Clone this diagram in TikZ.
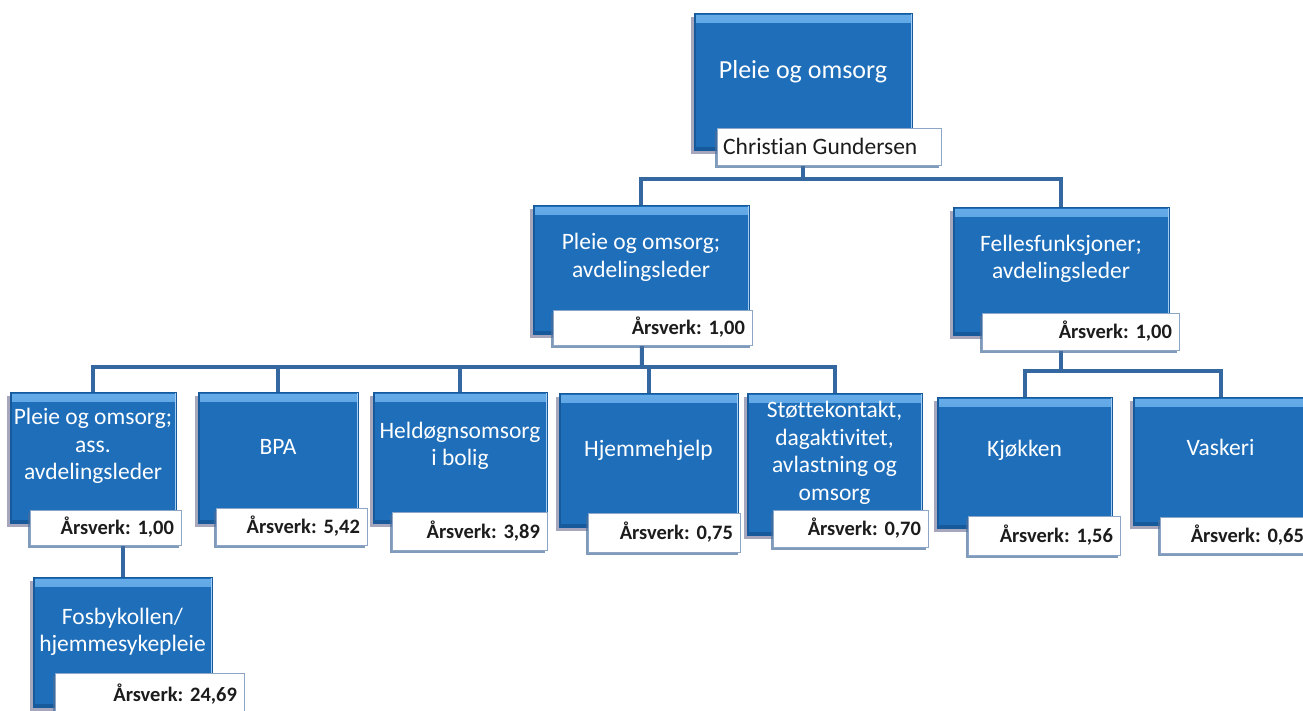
\documentclass[tikz,border=0pt]{standalone}
\usepackage{fontspec}
\setmainfont{Carlito}[Ligatures=NoCommon]
\frenchspacing
\usetikzlibrary{shadows}

\definecolor{boxblue}{HTML}{1E6EBA}
\definecolor{boxdark}{HTML}{175A9C}
\definecolor{boxlight}{HTML}{66ACE9}
\definecolor{linkblue}{HTML}{3567A0}
\definecolor{tagedge}{HTML}{8DA6C6}
\definecolor{tagshadow}{HTML}{4A6F9C}
\definecolor{inkdark}{HTML}{1C1C1C}

\pgfdeclarelayer{wires}
\pgfsetlayers{wires,main}

\tikzset{
  unitbox/.style={fill=boxblue, draw=boxdark, line width=0.8pt, inner sep=0pt,
    preaction={fill=black!75!blue, opacity=0.35, transform canvas={shift={(-3pt,-4pt)}}},
    path picture={
      \fill[top color=boxlight, bottom color=boxblue]
        ([yshift=-2pt]path picture bounding box.north west) rectangle
        ([yshift=-9pt]path picture bounding box.north east);
      \fill[boxdark] (path picture bounding box.south west) rectangle
        ([xshift=2pt]path picture bounding box.north west);
      \fill[boxdark] (path picture bounding box.south west) rectangle
        ([yshift=3pt]path picture bounding box.south east);
      \fill[boxlight!60!white] ([xshift=-1.5pt]path picture bounding box.south east) rectangle
        (path picture bounding box.north east);
    }},
  unittext/.style={text=white, align=center, inner sep=0pt,
    font=\fontsize{23.5}{27.5}\selectfont},
  tagbox/.style={fill=white, draw=tagedge, line width=0.8pt, inner xsep=7pt, inner ysep=0pt,
    align=right, text=inkdark, font=\bfseries\fontsize{20.5}{24}\selectfont,
    drop shadow={shadow xshift=-2pt, shadow yshift=-3pt, fill=tagshadow, opacity=0.7}},
  nametext/.style={inner sep=0pt, text=inkdark, font=\fontsize{23.5}{27}\selectfont},
  link/.style={draw=linkblue, line width=4pt},
}

% unit box: name, x1, y1, x2, y2, text centre y, text
\newcommand\orgunit[7]{%
  \pgfmathsetmacro\unitw{#4-#2}\pgfmathsetmacro\unith{#5-#3}%
  \node[unitbox, minimum width=\unitw pt, minimum height=\unith pt] (#1)
    at ({(#2+#4)/2},{(#3+#5)/2}) {};
  \node[unittext] (#1-text) at ({(#2+#4)/2},#6) {#7};}

% staffing tag: name, x1, y1, x2, y2, text
\newcommand\ftetag[6]{%
  \pgfmathsetmacro\tagw{#4-#2}\pgfmathsetmacro\tagh{#5-#3}\pgfmathsetmacro\tagtw{#4-#2-14}%
  \node[tagbox, minimum width=\tagw pt, minimum height=\tagh pt, text width=\tagtw pt] (#1)
    at ({(#2+#4)/2},{(#3+#5)/2}) {#6};}

\begin{document}
\begin{tikzpicture}[x=1pt, y=-1pt]
\useasboundingbox (0,0) rectangle (1303,710);
\clip (0,0) rectangle (1303,710);

% bus junctions
\coordinate (bus1) at (803,179);
\coordinate (bus2) at (642,367);
\coordinate (bus3) at (1061,371);

% units
\orgunit{top}{694}{13}{912}{150}{72}{\fontsize{26}{30}\selectfont Pleie og omsorg}
\orgunit{pom}{533}{205}{749}{334}{257.5}{Pleie og omsorg;\\avdelingsleder}
\orgunit{fel}{953}{207}{1169}{335}{259}{Fellesfunksjoner;\\avdelingsleder}
\orgunit{ass}{10}{392}{176}{523}{446}{Pleie og omsorg;\\ass.\\avdelingsleder}
\orgunit{bpa}{198}{392}{358}{523}{447}{BPA}
\orgunit{hel}{373}{392}{547}{523}{446}{Heldøgnsomsorg\\i bolig}
\orgunit{hje}{559}{393}{738}{527}{450}{Hjemmehjelp}
\orgunit{sto}{747}{393}{922}{535}{453}{Støttekontakt,\\dagaktivitet,\\avlastning og\\omsorg}
\orgunit{kjo}{937}{397}{1112}{528}{450}{Kjøkken}
\orgunit{vas}{1133}{397}{1308}{525}{447}{Vaskeri}
\orgunit{fos}{33}{577}{212}{707}{632}{Fosbykollen/\\hjemmesykepleie}

% staffing tags
\ftetag{top-tag}{717}{128}{941}{165}{}
\node[nametext, anchor=west] (top-name) at (723,146.5) {Christian Gundersen};
\ftetag{pom-tag}{553}{310}{752}{345}{Årsverk: 1,00}
\ftetag{fel-tag}{982}{313}{1179}{350}{Årsverk: 1,00}
\ftetag{ass-tag}{30}{510}{181}{545}{Årsverk: 1,00}
\ftetag{bpa-tag}{216}{508}{367}{545}{Årsverk: 5,42}
\ftetag{hel-tag}{392}{512}{547}{550}{Årsverk: 3,89}
\ftetag{hje-tag}{588}{513}{740}{552}{Årsverk: 0,75}
\ftetag{sto-tag}{773}{510}{928}{547}{Årsverk: 0,70}
\ftetag{kjo-tag}{968}{516}{1120}{555}{Årsverk: 1,56}
\ftetag{vas-tag}{1160}{517}{1311}{553}{Årsverk: 0,65}
\ftetag{fos-tag}{55}{673}{244}{716}{Årsverk: 24,69}

% connectors behind the boxes
\begin{pgfonlayer}{wires}
  \draw[link] (top.center) -- (bus1);
  \draw[link] (pom.center) |- (bus1) -| (fel.center);
  \draw[link] (pom.center) -- (bus2);
  \draw[link] (ass.center) |- (bus2) -| (sto.center);
  \draw[link] (bpa.center) -- (bpa.center |- bus2);
  \draw[link] (hel.center) -- (hel.center |- bus2);
  \draw[link] (hje.center) -- (hje.center |- bus2);
  \draw[link] (fel.center) -- (bus3);
  \draw[link] (kjo.center) |- (bus3) -| (vas.center);
  \draw[link] (fos.center) -- (fos.center |- ass.center);
\end{pgfonlayer}
\end{tikzpicture}
\end{document}
